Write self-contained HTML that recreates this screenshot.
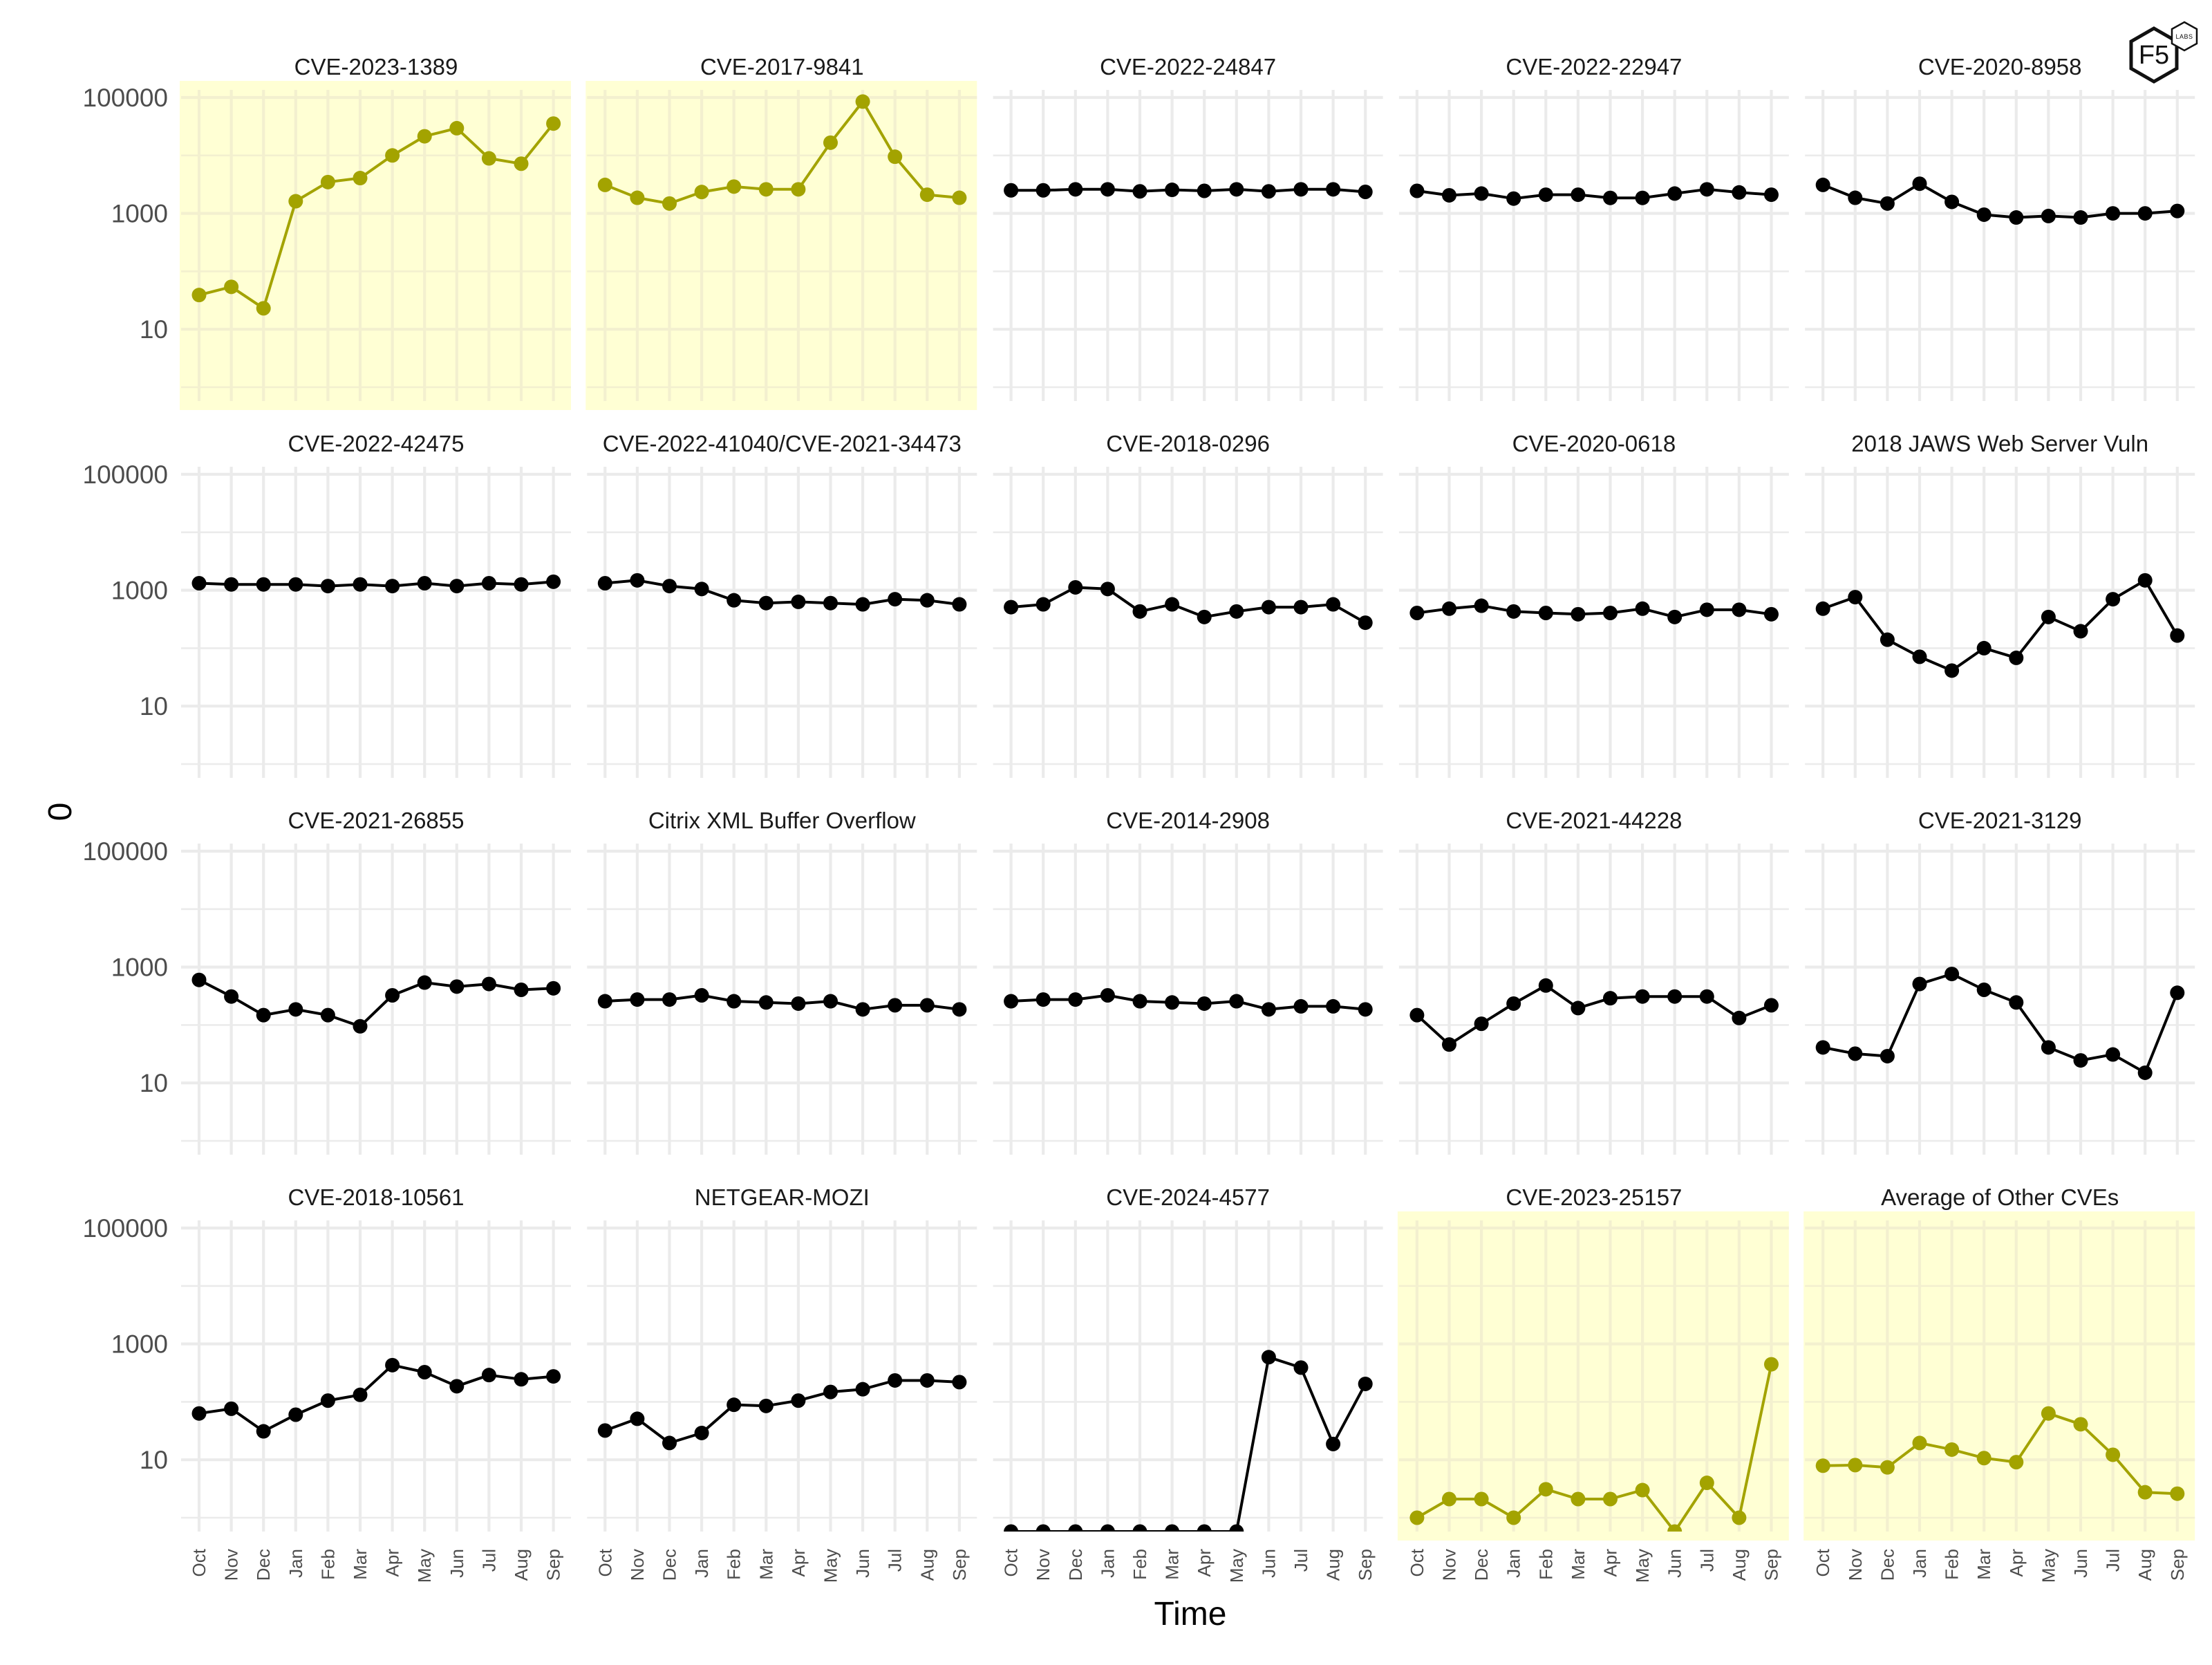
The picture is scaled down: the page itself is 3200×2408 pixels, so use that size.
<!DOCTYPE html>
<html><head><meta charset="utf-8">
<style>
html,body{margin:0;padding:0;background:#fff;}
svg{display:block;font-family:"Liberation Sans",Arial,sans-serif;}
</style></head>
<body>
<svg id="chart" width="3200" height="2408" viewBox="0 0 3200 2408" xmlns="http://www.w3.org/2000/svg">
  <g id="logo">
    <polygon points="3116,41 3149,60 3149,99 3116,118 3083,99 3083,60" fill="#fff" stroke="#111" stroke-width="5"/>
    <text x="3116" y="92" text-anchor="middle" font-size="38" fill="#111">F5</text>
    <polygon points="3160,32 3178,42 3178,63 3160,73 3142,63 3142,42" fill="#fff" stroke="#111" stroke-width="2.5"/>
    <text x="3160" y="56" text-anchor="middle" font-size="9" fill="#111" letter-spacing="0.5">LABS</text>
  </g>
</svg>
<script>
const months = ["Oct","Nov","Dec","Jan","Feb","Mar","Apr","May","Jun","Jul","Aug","Sep"];
const titles = ["CVE-2023-1389","CVE-2017-9841","CVE-2022-24847","CVE-2022-22947","CVE-2020-8958",
"CVE-2022-42475","CVE-2022-41040/CVE-2021-34473","CVE-2018-0296","CVE-2020-0618","2018 JAWS Web Server Vuln",
"CVE-2021-26855","Citrix XML Buffer Overflow","CVE-2014-2908","CVE-2021-44228","CVE-2021-3129",
"CVE-2018-10561","NETGEAR-MOZI","CVE-2024-4577","CVE-2023-25157","Average of Other CVEs"];
const highlighted = [true,true,false,false,false, false,false,false,false,false, false,false,false,false,false, false,false,false,true,true];
const yTickValues = [100000,1000,10];
const yTickLabels = ["100000","1000","10"];
const yMinorValues = [10000,100,1];
const s01 = [39,54,23,1620,3470,4070,10000,21400,29500,8900,7200,35500];
const s02 = [3100,1860,1480,2340,2900,2600,2600,16600,85000,9500,2100,1860];
const s03 = [2500,2500,2600,2600,2400,2550,2450,2600,2400,2600,2600,2350];
const s04 = [2450,2050,2200,1800,2100,2100,1850,1850,2200,2600,2300,2100];
const s05 = [3100,1860,1480,3250,1580,950,850,900,850,1000,1000,1100];
const s06 = [1320,1260,1260,1260,1180,1260,1180,1320,1180,1320,1260,1400];
const s07 = [1320,1480,1180,1050,670,600,630,600,570,700,670,570];
const s08 = [510,570,1120,1050,430,570,345,430,510,510,570,275];
const s09 = [405,480,540,430,405,385,405,480,345,460,460,385];
const s10 = [480,760,140,71,41,100,68,345,196,700,1480,165];
const s11 = [600,310,148,186,148,95,325,540,460,510,405,430];
const s12 = [257,275,275,325,257,245,234,257,186,219,219,186];
const s13 = [257,275,275,325,257,245,234,257,186,210,210,186];
const s14 = [148,46,105,234,480,196,290,310,310,310,132,219];
const s15 = [41,32,29,510,760,405,245,41,24.5,31,15,360];
const s16 = [63,76,31,60,105,132,430,325,186,290,245,275];
const s17 = [32,51,19.5,29,89,85,105,148,165,234,234,219];
const s18 = [0,0,0,0,0,0,0,0,590,390,18.7,204];
const s19 = [1,2.1,2.1,1,3.1,2.1,2.1,3,0,4,1,445];
const s20 = [7.9,8.1,7.4,19.5,15,10.7,9.1,63,41,12.2,2.75,2.6];
const seriesList = [s01,s02,s03,s04,s05,s06,s07,s08,s09,s10,s11,s12,s13,s14,s15,s16,s17,s18,s19,s20];

const NS="http://www.w3.org/2000/svg";
const svg=document.getElementById('chart');
const PW=564, PH=450;
function px0(c){return 262+587.3*c;}
function py0(r){return 130+545*r;}
function xScale(c,i){return px0(c)+26+i*46.6;}
function yScale(r,v){ if(v<=0) return py0(r)+PH; return py0(r)+11+(5-Math.log10(v))*83.8; }
function mk(tag,attrs,parent){const e=document.createElementNS(NS,tag);for(const k in attrs)e.setAttribute(k,attrs[k]);(parent||svg).appendChild(e);return e;}

const defs=mk('defs',{});
for(let p=0;p<20;p++){
  const r=Math.floor(p/5), c=p%5;
  const x0=px0(c), y0=py0(r), hl=highlighted[p];
  const g=mk('g',{});
  
  
  const cp=mk('clipPath',{id:'cp'+p},defs);
  mk('rect',{x:x0-14,y:y0-14,width:PW+14,height:PH+14},cp);
  if(hl){
    const bg=mk('rect',{x:x0-2,y:y0-13,width:PW+2,height:PH+26,fill:'#ffffd4'},g);
    
    
  }
  const gc=hl?'#f3f0cf':'#ebebeb';
  yMinorValues.forEach(v=>{const y=yScale(r,v);mk('line',{x1:x0,x2:x0+PW,y1:y,y2:y,stroke:gc,'stroke-width':2.6},g);});
  yTickValues.forEach(v=>{const y=yScale(r,v);mk('line',{x1:x0,x2:x0+PW,y1:y,y2:y,stroke:gc,'stroke-width':4.2},g);});
  months.forEach((m,i)=>{const x=xScale(c,i);mk('line',{x1:x,x2:x,y1:y0,y2:y0+PH,stroke:gc,'stroke-width':4.2},g);});
  const t=mk('text',{x:x0+282,y:y0-22,'text-anchor':'middle','font-size':33,fill:'#1a1a1a'},g);
  t.textContent=titles[p];
  
  
  const col=hl?'#a3a300':'#000';
  const data=seriesList[p];
  const dg=mk('g',{'clip-path':'url(#cp'+p+')'},g);
  const pts=data.map((v,i)=>xScale(c,i).toFixed(1)+','+yScale(r,v).toFixed(1)).join(' ');
  const line=mk('polyline',{points:pts,fill:'none',stroke:col,'stroke-width':4,'stroke-linejoin':'round'},dg);
  
  
  data.forEach((v,i)=>{
    const pt=mk('circle',{cx:xScale(c,i),cy:yScale(r,v),r:10.5,fill:col},dg);
    
    
  });
  if(c===0){
    yTickValues.forEach((v,k)=>{
      const lt=mk('text',{x:243,y:yScale(r,v)+13,'text-anchor':'end','font-size':37,fill:'#4d4d4d'},g);
      lt.textContent=yTickLabels[k];
      
      
    });
  }
  if(r===3){
    months.forEach((m,i)=>{
      const x=xScale(c,i)+9;
      const mt=mk('text',{x:x,y:2240,'text-anchor':'end','font-size':26,fill:'#4d4d4d',transform:'rotate(-90 '+x+' 2240)'},g);
      mt.textContent=m;
      
      
    });
  }
}
const xt=mk('text',{x:1722,y:2350,'text-anchor':'middle','font-size':48,fill:'#000'});
xt.textContent='Time';


const yt=mk('text',{x:103,y:1174,'text-anchor':'middle','font-size':48,fill:'#000',transform:'rotate(-90 103 1174)'});
yt.textContent='0';


</script>
</body></html>
